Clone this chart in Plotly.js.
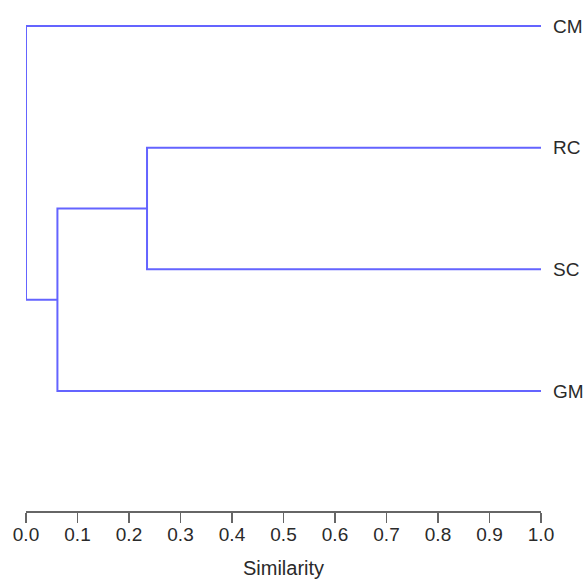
<!DOCTYPE html>
<html>
<head>
<meta charset="utf-8">
<script src="https://cdn.plot.ly/plotly-3.0.1.min.js"></script>
<style>html,body{margin:0;padding:0;background:#fff;}#chart{width:587px;height:580px;}</style>
</head>
<body>
<div id="chart"></div>
<script>
// Leaves (top to bottom)
const leafLabels = ['CM', 'RC', 'SC', 'GM'];
// Merges: cluster A joined with cluster B at a similarity level
const mergeA = ['RC', 'RC+SC', 'CM'];
const mergeB = ['SC', 'GM', 'RC+SC+GM'];
const mergeSimilarity = [0.235, 0.061, 0.0];
const xTickVals = [0, 0.1, 0.2, 0.3, 0.4, 0.5, 0.6, 0.7, 0.8, 0.9, 1.0];

// Node positions: leaves at similarity 1, stacked by index
const pos = {};
leafLabels.forEach((l, i) => { pos[l] = {x: 1.0, y: i}; });
const xs = [], ys = [];
mergeA.forEach((a, k) => {
  const b = mergeB[k], s = mergeSimilarity[k];
  const pa = pos[a], pb = pos[b];
  xs.push(pa.x, s, s, pb.x, null);
  ys.push(pa.y, pa.y, pb.y, pb.y, null);
  pos[a + '+' + b] = {x: s, y: (pa.y + pb.y) / 2};
});

const font = {family: '"Liberation Sans", Arial, sans-serif', size: 19, color: '#2a2a2a'};
const titleFont = {family: '"Liberation Sans", Arial, sans-serif', size: 20, color: '#2a2a2a'};

Plotly.newPlot('chart', [{
  x: xs, y: ys, type: 'scatter', mode: 'lines', connectgaps: false,
  line: {color: '#6464ff', width: 2}, hoverinfo: 'skip', showlegend: false
}], {
  width: 587, height: 580,
  margin: {l: 26, r: 46, t: 20, b: 69},
  paper_bgcolor: '#fff', plot_bgcolor: '#fff',
  font: font,
  showlegend: false,
  xaxis: {
    range: [0, 1], tickvals: xTickVals, tickformat: '.1f',
    showgrid: false, zeroline: false,
    showline: true, linecolor: '#666', linewidth: 1.5,
    ticks: 'outside', ticklen: 10, tickcolor: '#666', tickwidth: 1.5,
    tickfont: font, ticklabelstandoff: -4,
    title: {text: 'Similarity', font: titleFont, standoff: 16}
  },
  yaxis: {
    range: [3.986, -0.049], side: 'right',
    tickvals: leafLabels.map((l, i) => i), ticktext: leafLabels,
    showgrid: false, zeroline: false, showline: false,
    ticks: '', ticklabelstandoff: 11, tickfont: font
  }
}, {displayModeBar: false, staticPlot: true});
</script>
</body>
</html>
